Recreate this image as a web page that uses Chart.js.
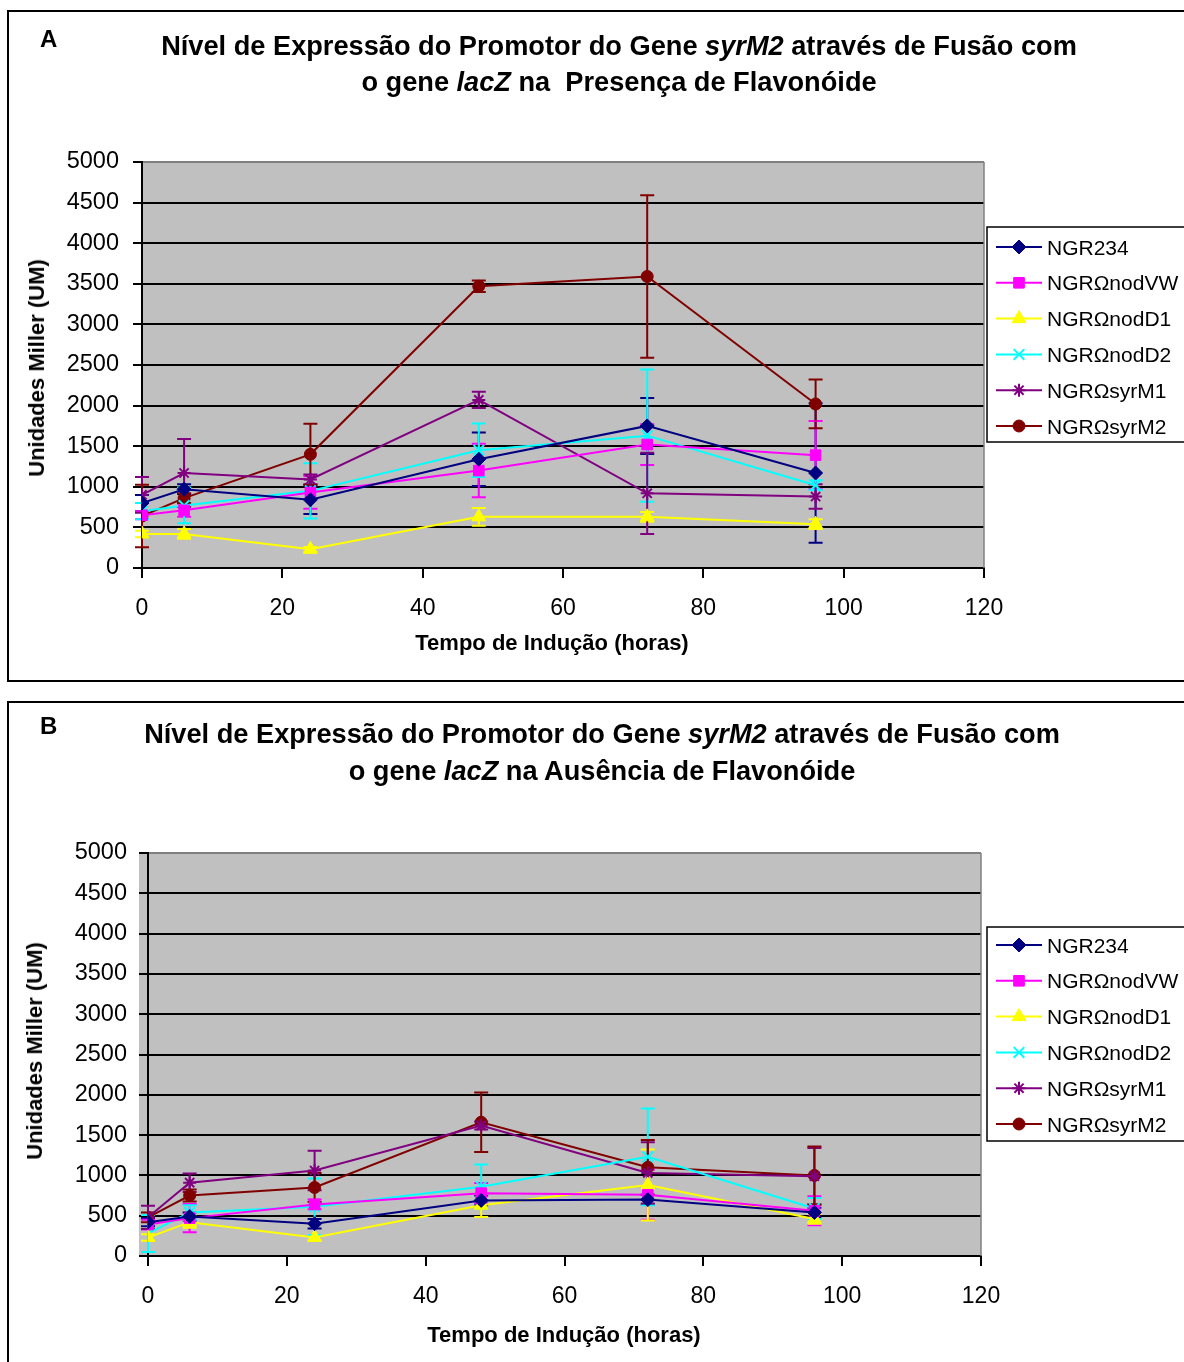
<!DOCTYPE html>
<html lang="pt">
<head>
<meta charset="utf-8">
<title>Expressão do promotor syrM2</title>
<script src="https://cdn.jsdelivr.net/npm/chart.js@4.4.1/dist/chart.umd.min.js"></script>
<style>
  html, body { margin: 0; padding: 0; background: #fff; }
  body { width: 1184px; height: 1362px; position: relative; overflow: hidden;
         font-family: "Liberation Sans", Arial, Helvetica, sans-serif; color: #000; }
  .panel { position: absolute; left: 7px; width: 1200px; border: 2px solid #000; box-sizing: border-box; }
  canvas { position: absolute; left: 0; }
  .t { position: absolute; white-space: nowrap; font-weight: bold; line-height: 1; }
  .c { transform: translateX(-50%); }
  .ttl { font-size: 27.2px; }
  .lbl { font-size: 22px; }
  .tag { font-size: 24px; }
  .yt { font-size: 22px; transform: translate(-50%, -50%) rotate(-90deg); }
</style>
</head>
<body>
<div class="panel" style="top:10px;height:672px"></div>
<div class="panel" style="top:701px;height:700px"></div>

<canvas id="chartA" width="1184" height="690" style="top:0"></canvas>
<canvas id="chartB" width="1184" height="672" style="top:690px"></canvas>

<div class="t tag" style="left:40px;top:27px">A</div>
<div class="t ttl c" style="left:619px;top:32px">Nível de Expressão do Promotor do Gene <i>syrM2</i> através de Fusão com</div>
<div class="t ttl c" style="left:619px;top:68px">o gene <i>lacZ</i> na&nbsp; Presença de Flavonóide</div>
<div class="t yt" style="left:37px;top:368px">Unidades Miller (UM)</div>
<div class="t lbl c" style="left:552px;top:632px">Tempo de Indução (horas)</div>

<div class="t tag" style="left:40px;top:714px">B</div>
<div class="t ttl c" style="left:602px;top:720px">Nível de Expressão do Promotor do Gene <i>syrM2</i> através de Fusão com</div>
<div class="t ttl c" style="left:602px;top:757px">o gene <i>lacZ</i> na Ausência de Flavonóide</div>
<div class="t yt" style="left:35px;top:1051px">Unidades Miller (UM)</div>
<div class="t lbl c" style="left:564px;top:1324px">Tempo de Indução (horas)</div>

<script>
// Tempo de indução (horas)
const hours = [0, 6, 24, 48, 72, 96];

// Linhagens
const strains = ['NGR234', 'NGRΩnodVW', 'NGRΩnodD1', 'NGRΩnodD2', 'NGRΩsyrM1', 'NGRΩsyrM2'];

// A – presença de flavonóide: média e desvio (Unidades Miller)
const presNGR234 = [800, 970, 840, 1340, 1750, 1170];
const presNGR234Err = [100, 60, 175, 330, 345, 860];
const presNodVW = [650, 710, 930, 1200, 1520, 1390];
const presNodVWErr = [50, 80, 200, 330, 250, 420];
const presNodD1 = [420, 420, 230, 630, 630, 540];
const presNodD1Err = [40, 60, 30, 110, 60, 60];
const presNodD2 = [700, 770, 950, 1450, 1630, 1020];
const presNodD2Err = [100, 220, 340, 330, 815, 60];
const presSyrM1 = [900, 1170, 1090, 2070, 920, 880];
const presSyrM1Err = [220, 420, 60, 100, 500, 150];
const presSyrM2 = [640, 860, 1400, 3470, 3590, 2020];
const presSyrM2Err = [385, 60, 375, 70, 1000, 300];

// B – ausência de flavonóide: média e desvio (Unidades Miller)
const ausNGR234 = [420, 490, 400, 690, 700, 540];
const ausNGR234Err = [50, 50, 60, 60, 60, 60];
const ausNodVW = [390, 470, 640, 780, 760, 560];
const ausNodVWErr = [60, 175, 60, 125, 310, 180];
const ausNodD1 = [230, 420, 230, 630, 880, 460];
const ausNodD1Err = [40, 70, 30, 145, 440, 60];
const ausNodD2 = [280, 540, 610, 860, 1230, 590];
const ausNodD2Err = [230, 90, 350, 275, 600, 130];
const ausSyrM1 = [480, 910, 1060, 1620, 1030, 990];
const ausSyrM1Err = [145, 115, 245, 50, 380, 350];
const ausSyrM2 = [480, 750, 850, 1660, 1100, 1000];
const ausSyrM2Err = [60, 75, 180, 370, 340, 360];

// Eixos
const yTicks = [0, 500, 1000, 1500, 2000, 2500, 3000, 3500, 4000, 4500, 5000];
const xTicks = [0, 20, 40, 60, 80, 100, 120];

// Estilo de cada série (cor, marcador)
const seriesStyle = [
  { color: '#000080', point: 'rectRot', radius: 7, border: 1 },
  { color: '#FF00FF', point: 'rect', radius: 7.5, border: 1 },
  { color: '#FFFF00', point: 'triangle', radius: 8, border: 1 },
  { color: '#00FFFF', point: 'crossRot', radius: 7.5, border: 2 },
  { color: '#800080', point: 'star', radius: 6.5, border: 2 },
  { color: '#800000', point: 'circle', radius: 6, border: 1 }
];

const FONT = '"Liberation Sans", Arial, Helvetica, sans-serif';
Chart.defaults.font.family = FONT;
Chart.defaults.color = '#000';

function buildDatasets(means, errs) {
  return strains.map((name, i) => ({
    label: name,
    data: hours.map((h, j) => ({ x: h, y: means[i][j] })),
    errors: errs[i],
    borderColor: seriesStyle[i].color,
    backgroundColor: seriesStyle[i].color,
    pointBackgroundColor: seriesStyle[i].color,
    pointBorderColor: seriesStyle[i].color,
    pointStyle: seriesStyle[i].point,
    pointRadius: seriesStyle[i].radius,
    pointBorderWidth: seriesStyle[i].border,
    borderWidth: 2,
    tension: 0,
    fill: false
  }));
}

// Fundo cinza da área de plotagem e moldura direita
const plotFrame = {
  id: 'plotFrame',
  beforeDraw(chart, args, opts) {
    const { ctx, chartArea: a } = chart;
    const ext = opts.extendLeft || 0;
    ctx.save();
    ctx.fillStyle = '#C0C0C0';
    ctx.fillRect(a.left - ext, a.top, a.right - a.left + ext, a.bottom - a.top);
    ctx.restore();
  },
  beforeDatasetsDraw(chart) {
    const { ctx, chartArea: a } = chart;
    ctx.save();
    ctx.strokeStyle = '#808080';
    ctx.lineWidth = 1.5;
    ctx.beginPath();
    ctx.moveTo(a.right, a.top);
    ctx.lineTo(a.right, a.bottom);
    ctx.stroke();
    ctx.restore();
  }
};

// Barras de erro (± desvio) desenhadas com as escalas do gráfico
const errorBars = {
  id: 'errorBars',
  beforeDatasetsDraw(chart) {
    const { ctx, scales: { x, y }, chartArea: a } = chart;
    const cap = 7;
    chart.data.datasets.forEach((ds) => {
      ctx.save();
      ctx.strokeStyle = ds.borderColor;
      ctx.lineWidth = 2;
      ds.data.forEach((p, j) => {
        const e = ds.errors[j];
        if (!e) return;
        const px = x.getPixelForValue(p.x);
        const yTop = Math.max(y.getPixelForValue(p.y + e), a.top);
        const yBot = Math.min(y.getPixelForValue(p.y - e), a.bottom);
        ctx.beginPath();
        ctx.moveTo(px, yTop); ctx.lineTo(px, yBot);
        ctx.moveTo(px - cap, yTop); ctx.lineTo(px + cap, yTop);
        ctx.moveTo(px - cap, yBot); ctx.lineTo(px + cap, yBot);
        ctx.stroke();
      });
      ctx.restore();
    });
  }
};

// Legenda lateral com linha e marcador de cada série
function drawMarker(ctx, style, radius, borderWidth, x, y) {
  if (Chart.helpers && Chart.helpers.drawPoint) {
    Chart.helpers.drawPoint(ctx, { pointStyle: style, radius: radius, borderWidth: borderWidth, rotation: 0 }, x, y);
  }
}
const sideLegend = {
  id: 'sideLegend',
  afterDraw(chart, args, opts) {
    const { ctx } = chart;
    ctx.save();
    ctx.strokeStyle = '#000';
    ctx.lineWidth = 1.5;
    ctx.strokeRect(opts.left, opts.top, 400, opts.height);
    chart.data.datasets.forEach((ds, i) => {
      const cy = opts.firstY + i * opts.step;
      ctx.strokeStyle = ds.borderColor;
      ctx.fillStyle = ds.borderColor;
      ctx.lineWidth = 2;
      ctx.beginPath();
      ctx.moveTo(opts.left + 9, cy);
      ctx.lineTo(opts.left + 55, cy);
      ctx.stroke();
      ctx.lineWidth = ds.pointBorderWidth;
      drawMarker(ctx, ds.pointStyle, ds.pointRadius, ds.pointBorderWidth, opts.left + 32, cy);
      ctx.fillStyle = '#000';
      ctx.font = '21px ' + FONT;
      ctx.textBaseline = 'alphabetic';
      ctx.textAlign = 'left';
      ctx.fillText(ds.label, opts.left + 60, cy + 7.5);
    });
    ctx.restore();
  }
};

function makeChart(id, datasets, cfg) {
  return new Chart(document.getElementById(id), {
    type: 'line',
    data: { datasets },
    options: {
      responsive: false,
      animation: false,
      devicePixelRatio: 1,
      events: [],
      layout: { padding: cfg.padding },
      plugins: {
        legend: { display: false },
        tooltip: { enabled: false },
        title: { display: false },
        plotFrame: { extendLeft: cfg.extendLeft },
        sideLegend: cfg.legend
      },
      scales: {
        x: {
          type: 'linear',
          min: 0, max: 120,
          afterFit: (s) => { s.height = 60; },
          afterBuildTicks: (s) => { s.ticks = xTicks.map(v => ({ value: v })); },
          grid: { drawOnChartArea: false, drawTicks: true, tickLength: 10, color: '#000', lineWidth: 2 },
          border: { display: true, color: '#000', width: 2 },
          ticks: { font: { size: 23 }, color: '#000', padding: 17, maxRotation: 0, callback: (v) => String(v) }
        },
        y: {
          min: 0, max: 5000,
          afterFit: (s) => { s.width = 100; },
          afterBuildTicks: (s) => { s.ticks = yTicks.map(v => ({ value: v })); },
          grid: {
            color: (c) => (c.tick && c.tick.value === 5000 ? '#808080' : '#000'),
            tickColor: '#000',
            lineWidth: 2,
            tickLength: 9
          },
          border: { display: true, color: '#000', width: 2 },
          ticks: { font: { size: 23.5 }, color: '#000', padding: cfg.yPad, callback: (v) => String(v) }
        }
      }
    },
    plugins: [plotFrame, errorBars, sideLegend]
  });
}

makeChart('chartA',
  buildDatasets(
    [presNGR234, presNodVW, presNodD1, presNodD2, presSyrM1, presSyrM2],
    [presNGR234Err, presNodVWErr, presNodD1Err, presNodD2Err, presSyrM1Err, presSyrM2Err]),
  {
    padding: { left: 42, right: 200, top: 162, bottom: 62 },
    extendLeft: 0,
    yPad: 14,
    legend: { left: 987, top: 227, height: 215, firstY: 247, step: 35.8 }
  });

makeChart('chartB',
  buildDatasets(
    [ausNGR234, ausNodVW, ausNodD1, ausNodD2, ausSyrM1, ausSyrM2],
    [ausNGR234Err, ausNodVWErr, ausNodD1Err, ausNodD2Err, ausSyrM1Err, ausSyrM2Err]),
  {
    padding: { left: 48, right: 203, top: 163, bottom: 46 },
    extendLeft: 9,
    yPad: 12,
    legend: { left: 987, top: 237, height: 214, firstY: 255, step: 35.8 }
  });
</script>
</body>
</html>
